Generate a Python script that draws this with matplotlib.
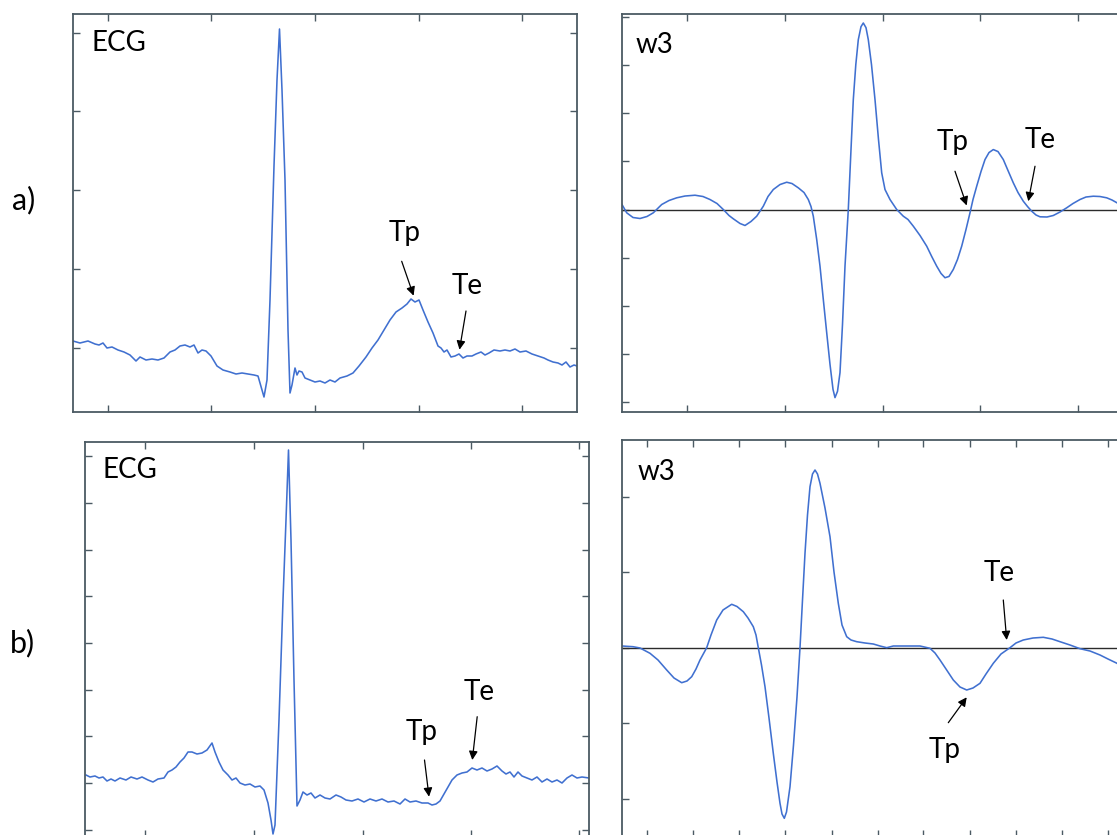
import numpy as np
import matplotlib
matplotlib.use("Agg")
from matplotlib import pyplot as plt

# values (sample index, amplitude in arbitrary units)

# a) ECG
ecg_a_x = [0, 7, 15, 22, 26, 30, 34, 39, 45, 51, 57, 63, 67, 73, 79, 85, 91, 97, 102, 107,
           112, 117, 121, 125, 129, 133, 138, 144, 150, 157, 163, 169, 175, 181, 185, 189,
           191, 194, 197, 201, 204, 206.5, 209, 212, 215, 217, 219, 222, 224, 226, 229, 232,
           237, 242, 247, 252, 257, 262, 267, 274, 280, 286, 293, 299, 305, 311, 317, 323,
           329, 334, 338, 342, 346, 350, 355, 360, 365, 368, 371, 374, 378, 382, 386, 390,
           394, 399, 403, 408, 412, 416, 421, 427, 432, 437, 442, 447, 453, 459, 465, 471,
           475, 480, 485, 489, 493, 497, 501, 504]
ecg_a_y = [7, 5, 7, 4, 3, 5, 0, 1, -2, -4, -7, -13, -9, -12, -11, -12, -10, -4, -2, 2,
           3, 1, 3, -5, -2, -3, -8, -18, -22, -24, -26, -25, -26, -27, -28, -42,
           -49, -32, 48, 182, 268, 319, 258, 168, 18, -45, -37, -20, -27, -23, -24, -30,
           -32, -34, -33, -35, -32, -34, -30, -28, -25, -18, -9, 0, 8, 18, 28, 36,
           40, 44, 49, 46, 48, 38, 26, 15, 2, 0, -4, -2, -9, -8, -6, -10,
           -8, -8, -6, -4, -7, -5, -2, -3, -2, -3, -1, -4, -3, -6, -8, -10,
           -12, -14, -15, -17, -14, -19, -17, -18]

# a) w3
w3_a_x = [0, 4.7, 11, 18, 25, 31.3, 39.7, 47, 54.7, 63, 73, 81, 88, 95, 101.3, 107, 111.3,
          118, 123, 129, 134.7, 141.3, 146, 151.3, 158, 164.7, 170, 176.3, 182, 186.3, 189,
          191.3, 194.7, 198, 201.3, 204.7, 208, 211, 213, 215.5, 218, 220.5, 223, 226.3,
          229, 231.3, 233.8, 236.3, 239, 241.3, 244, 246.3, 249.5, 253, 256.5, 259.7, 263,
          268, 274.7, 281.3, 286, 291.3, 298, 304.7, 309.7, 314.7, 319, 323, 327, 331.3,
          335.5, 339.7, 344, 348, 351, 354.7, 359, 363, 367, 371.3, 376, 381.3, 386, 391.3,
          396, 401.3, 405.5, 409.7, 414, 418, 425, 431.3, 438, 444.7, 451, 458, 464, 471.3,
          478, 484.7, 490, 495, 503]
w3_a_y = [5, -3.3, -8, -9, -7, -3.3, 5, 9, 11.7, 13.5, 14.3, 13, 10, 6, 0, -6, -9.3,
          -14, -16, -12, -6.7, 3.3, 13, 20, 25, 27.3, 26, 21.7, 17, 10, 3,
          -6.7, -30, -56.7, -90, -123.3, -155, -180, -188.3, -182, -163.3, -115, -56.7, 0,
          60, 110, 145, 170, 183, 186.7, 182, 170, 145, 110, 70, 36.7, 20,
          10, 0, -6.7, -10, -16.7, -26, -36.7, -47, -56.7, -64, -68.3, -67, -60,
          -50, -36.7, -20, -3.3, 10, 23.3, 38, 50, 57, 60, 58, 50, 39, 26.7,
          17, 8.3, 3, -1.7, -5.5, -7.3, -7.5, -6, -2.5, 1.7, 6, 10, 12.5, 13.3,
          13, 11.7, 9.5, 6.7, 2]

# b) ECG
ecg_b_x = [1, 5, 10, 14, 18, 22, 26, 30, 35, 41, 46, 52, 57, 63, 68, 73, 79, 83, 87, 91,
           95, 99, 103, 107, 112, 117, 122, 127, 130, 134, 138, 143, 147, 151, 155, 160,
           165, 170, 175, 179, 183, 186, 188, 190, 194, 198, 201, 203.5, 206, 209, 212,
           215, 218, 222, 226, 230, 235, 240, 245, 251, 256, 261, 267, 273, 279, 285, 291,
           297, 303, 309, 315, 320, 325, 331, 337, 343, 347, 351, 355, 359, 363, 367, 372,
           377, 382, 387, 392, 397, 402, 407, 412, 417, 421, 425, 429, 433, 437, 442, 447,
           452, 457, 462, 467, 472, 477, 482, 487, 492, 497, 504]
ecg_b_y = [8, 6, 7, 5, 6, 2, 4, 2, 5, 3, 6, 4, 6, 3, 1, 4, 5, 11, 13, 16,
           21, 25, 31, 31, 29, 30, 33, 40, 31, 21, 13, 8, 3, 5, 0, -2,
           -1, -4, -3, -7, -20, -37, -51, -42, 63, 183, 263, 333, 243, 103, -23,
           -17, -9, -12, -10, -15, -12, -15, -16, -12, -14, -17, -18, -16, -19, -16, -18,
           -16, -19, -18, -21, -16, -19, -18, -20, -20, -22, -21, -18, -11, -4, 3, 8,
           10, 11, 15, 13, 15, 12, 14, 17, 12, 9, 11, 6, 11, 7, 5, 3,
           6, 1, 4, 1, 3, 0, 5, 8, 5, 6, 5]

# b) w3
w3_b_x = [0, 11, 18, 28, 36, 44.7, 52, 59.7, 65, 69.7, 74, 78, 84.7, 89, 94.7, 101, 109.7,
          115, 121.3, 126, 131.3, 134, 136.3, 139.5, 143, 147, 151.3, 155, 158, 160, 162.3,
          164.5, 168, 171.5, 175, 178, 180.5, 183, 185.5, 188, 190.5, 193, 195.5, 198, 203,
          208, 212, 216.3, 220, 224.7, 229, 234.7, 243, 251.3, 258, 264.7, 271.3, 283, 298,
          308, 313, 318, 324, 331.3, 338, 344.7, 351, 358, 364, 371.3, 379, 388, 394, 401.3,
          411, 421.3, 430, 438, 448, 458, 468, 478, 486, 495, 503]
w3_b_y = [1.7, 1, -0.3, -5.6, -12.3, -22.3, -30.3, -35, -33.3, -29, -21.3, -12.3, 0, 12.7,
          27.7, 37.7, 43.4, 41.2, 36, 29.7, 21, 12.7, 0, -17.3, -39, -70.3, -105.6, -134.3,
          -155.6, -166.3, -170.6, -164.3, -139, -97.3, -49.3, 0, 47.7, 94.4, 132.7, 161,
          173.7, 177.7, 173.7, 164.4, 139.7, 111, 75.7, 44.4, 22.7, 11, 7.7, 6, 4.7, 3.7,
          1.7, 0, 1.7, 1.7, 1.7, -0.6, -5.3, -12.3, -21.3, -32.3, -39.3, -42.3, -40.3, -35.6,
          -26.3, -15.6, -6.3, 0, 4.7, 7.7, 9.7, 10.4, 8.7, 6, 2.7, -1, -3.3, -7.3, -11.3,
          -15.6, -22]

# tick positions (no labels shown)
ecg_a_xticks = [34.5, 138, 242, 346, 449]
ecg_a_yticks = [0, 79, 158, 237, 315]
w3_a_xticks = [65.3, 163, 260.7, 358, 456.3]
w3_a_yticks = [-193, -145, -96.5, -48.3, 0, 48.3, 96.5, 145, 193]
ecg_b_xticks = [59.6, 168.5, 277.5, 386.1, 494.3]
ecg_b_yticks = [-46.7, 0, 46.7, 93.4, 140, 186.7, 233.4, 280, 326.7]
w3_b_xticks = [24.7, 71.3, 117.3, 163, 209.7, 255.7, 301.3, 348, 394, 439.7, 486.3]
w3_b_yticks = [-151, -75.5, 0, 75.5, 151]

# annotations: (label, text xy, arrow start, arrow tip)
ann_ecg_a = [("Tp", (331.8, 115), (328.7, 86.7), (340.6, 52.3)),
             ("Te", (393.7, 62.3), (393, 37), (386.5, -1.7))]
ann_w3_a = [("Tp", (331, 68), (333, 38.3), (344.7, 4)),
            ("Te", (418, 70), (413, 43.3), (406.3, 8.3))]
ann_ecg_b = [("Tp", (336.8, 51.3), (339.5, 23), (344, -13.7)),
             ("Te", (394.2, 91.3), (392.2, 66.3), (387.3, 23))]
ann_w3_b = [("Te", (377.3, 75), (381.3, 47.7), (384.7, 7.7)),
            ("Tp", (322.3, -102.3), (326.3, -75), (344.7, -49.6))]

plt.rcParams['font.family'] = ['Lato', 'DejaVu Sans']

W, H = 1117, 835
fig = plt.figure(figsize=(W / 100, H / 100), dpi=100)

line_col = '#4070d0'
spine_col = '#4b5a63'
fs = 20


def make_ax(l, t, r, b):
    # pixel box -> figure fraction
    return fig.add_axes([l / W, 1 - b / H, (r - l) / W, (b - t) / H])


def style(ax, xlim, ylim, xt, yt):
    ax.set_xlim(*xlim)
    ax.set_ylim(*ylim)
    ax.set_xticks(xt)
    ax.set_yticks(yt)
    ax.tick_params(direction='in', length=5, width=1, color=spine_col,
                   top=True, right=True, labelbottom=False, labelleft=False)
    for s in ax.spines.values():
        s.set_color(spine_col)
        s.set_linewidth(1.3)


def annotate(ax, items):
    for lab, txy, a0, a1 in items:
        ax.text(txy[0], txy[1], lab, fontsize=fs, ha='center', va='center')
        ax.annotate('', xy=a1, xytext=a0,
                    arrowprops=dict(arrowstyle='-|>', color='black', lw=0.9,
                                    mutation_scale=13, shrinkA=0, shrinkB=0))


ax1 = make_ax(73, 14, 577, 412)
ax1.plot(ecg_a_x, ecg_a_y, color=line_col, lw=1.15)
style(ax1, (0, 504), (-64, 334), ecg_a_xticks, ecg_a_yticks)
ax1.text(0.036, 0.927, 'ECG', transform=ax1.transAxes, fontsize=fs, va='center')
annotate(ax1, ann_ecg_a)

ax2 = make_ax(622, 14, 1125, 412)
ax2.axhline(0, color='#2b2b2b', lw=1.0)
ax2.plot(w3_a_x, w3_a_y, color=line_col, lw=1.15)
style(ax2, (0, 503), (-202.7, 195.7), w3_a_xticks, w3_a_yticks)
ax2.text(0.027, 0.922, 'w3', transform=ax2.transAxes, fontsize=fs, va='center')
annotate(ax2, ann_w3_a)

ax3 = make_ax(85, 441.7, 589, 837)
ax3.plot(ecg_b_x, ecg_b_y, color=line_col, lw=1.15)
style(ax3, (0, 504), (-54, 341.3), ecg_b_xticks, ecg_b_yticks)
ax3.text(0.034, 0.929, 'ECG', transform=ax3.transAxes, fontsize=fs, va='center')
annotate(ax3, ann_ecg_b)

ax4 = make_ax(622, 440, 1125, 837)
ax4.axhline(0, color='#2b2b2b', lw=1.0)
ax4.plot(w3_b_x, w3_b_y, color=line_col, lw=1.15)
style(ax4, (0, 503), (-189.3, 207.7), w3_b_xticks, w3_b_yticks)
ax4.text(0.030, 0.92, 'w3', transform=ax4.transAxes, fontsize=fs, va='center')
annotate(ax4, ann_w3_b)

fig.text(0.011, 1 - 200 / H, 'a)', fontsize=22, va='center')
fig.text(0.009, 1 - 643 / H, 'b)', fontsize=22, va='center')

fig.savefig('out.png', dpi=100)
